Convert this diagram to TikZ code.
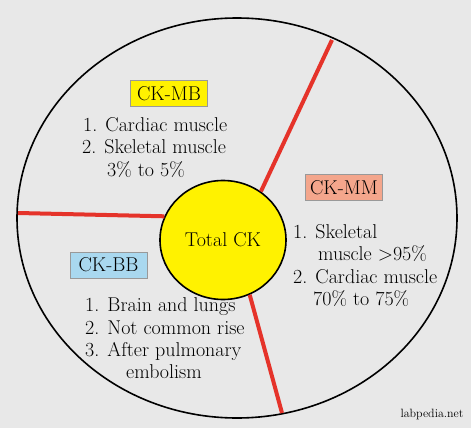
\documentclass[tikz,border=0pt]{standalone}
\usetikzlibrary{shapes.geometric}
\definecolor{bg}{HTML}{E8E8E8}
\definecolor{ckred}{HTML}{E5332A}
\definecolor{ckyellow}{HTML}{FFF200}
\definecolor{cksalmon}{HTML}{F4A68C}
\definecolor{ckblue}{HTML}{A9D8EF}
\tikzset{
  txt/.style={inner sep=0pt, font=\fontsize{20}{22}\selectfont},
  lbl/.style={draw=gray!80, line width=0.8pt, inner xsep=5pt, inner ysep=3pt, minimum width=77pt, minimum height=26pt, font=\fontsize{20}{22}\selectfont},
  divider/.style={draw=ckred, line width=4pt},
}
\begin{document}
\begin{tikzpicture}[x=1pt,y=-1pt]
\useasboundingbox (0,0) rectangle (474,431);
\fill[white] (0,0) rectangle (474,431);
\fill[bg] (0,0) rectangle (471,428);
% outer ellipse
\node[draw=black, line width=1.6pt, ellipse, minimum width=440pt, minimum height=400pt, inner sep=0pt] (outer) at (237,218) {};
% centre circle
\node[draw=black, line width=1.6pt, fill=ckyellow, ellipse, minimum width=126pt, minimum height=119pt, inner sep=0pt, font=\fontsize{20}{22}\selectfont] (total) at (223,240) {Total CK};
% dividers
\coordinate (a1) at (332,40);
\coordinate (a2) at (18,213);
\coordinate (a3) at (282,413);
\draw[divider] (total.52) -- (a1);
\draw[divider] (a2) -- (total.158);
\draw[divider] (total.-64) -- (a3);
% CK-MB
\node[lbl, fill=ckyellow] (mb) at (169,93.5) {CK-MB};
\node[txt, anchor=base west] (mb1) at (83,131.5) {1. Cardiac muscle};
\node[txt, anchor=base west] (mb2) at (82,153.5) {2. Skeletal muscle};
\node[txt, anchor=base west] (mb3) at (107,176) {3\% to 5\%};
% CK-MM
\node[lbl, fill=cksalmon] (mm) at (344,187.5) {CK-MM};
\node[txt, anchor=base west] (mm1) at (293,238.5) {1. Skeletal};
\node[txt, anchor=base west] (mm2) at (318,260.5) {muscle >95\%};
\node[txt, anchor=base west] (mm3) at (293,283.5) {2. Cardiac muscle};
\node[txt, anchor=base west] (mm4) at (313,305.5) {70\% to 75\%};
% CK-BB
\node[lbl, fill=ckblue] (bb) at (108.5,265) {CK-BB};
\node[txt, anchor=base west] (bb1) at (85,311.5) {1. Brain and lungs};
\node[txt, anchor=base west] (bb2) at (85,334) {2. Not common rise};
\node[txt, anchor=base west] (bb3) at (85,356.5) {3. After pulmonary};
\node[txt, anchor=base] (bb4) at (164,378.5) {embolism};
% credit
\node[inner sep=0pt, font=\fontsize{12}{14}\selectfont] (credit) at (432,414) {labpedia.net};
\end{tikzpicture}
\end{document}
